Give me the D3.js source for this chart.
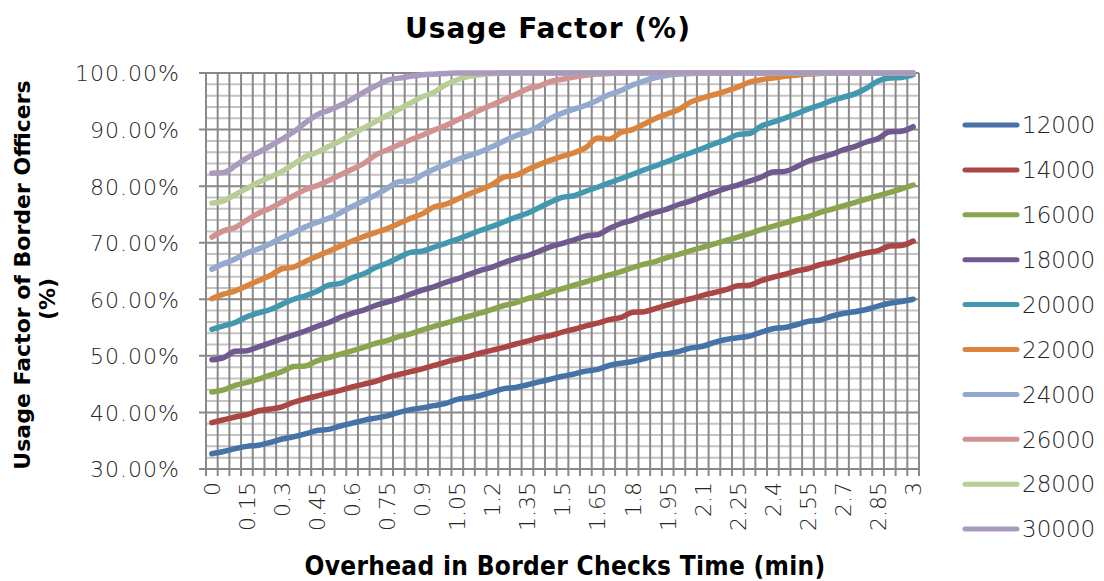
<!DOCTYPE html>
<html>
<head>
<meta charset="utf-8">
<script src="https://cdn.jsdelivr.net/npm/d3@7"></script>
<style>
  html, body { margin: 0; padding: 0; background: #fff; }
  svg { display: block; }
  .tick text { font-family: "DejaVu Sans", sans-serif; font-weight: 200; fill: #262626; }
</style>
</head>
<body>
<svg id="chart" width="1104" height="581"></svg>
<script>
// ---------------- DATA ----------------
const categories = ["0","0.05","0.1","0.15","0.2","0.25","0.3","0.35","0.4","0.45","0.5","0.55","0.6","0.65","0.7","0.75","0.8","0.85","0.9","0.95","1","1.05","1.1","1.15","1.2","1.25","1.3","1.35","1.4","1.45","1.5","1.55","1.6","1.65","1.7","1.75","1.8","1.85","1.9","1.95","2","2.05","2.1","2.15","2.2","2.25","2.3","2.35","2.4","2.45","2.5","2.55","2.6","2.65","2.7","2.75","2.8","2.85","2.9","2.95","3"];
const seriesNames = ["12000","14000","16000","18000","20000","22000","24000","26000","28000","30000"];
const yTickValues = [30,40,50,60,70,80,90,100];

const s12000 = [32.7,33.1,33.6,34.0,34.2,34.7,35.3,35.7,36.2,36.8, 37.0,37.6,38.1,38.6,39.0,39.4,40.0,40.5,40.8,41.2, 41.6,42.3,42.6,43.0,43.6,44.2,44.4,44.9,45.4,45.9, 46.4,46.8,47.3,47.6,48.3,48.7,49.0,49.5,50.1,50.4, 50.8,51.4,51.7,52.4,52.9,53.2,53.5,54.2,54.8,55.0, 55.5,56.1,56.3,57.0,57.5,57.8,58.2,58.8,59.3,59.6, 60.0];
const s14000 = [38.2,38.7,39.2,39.6,40.3,40.6,41.0,41.8,42.4,42.9, 43.4,43.9,44.5,45.0,45.5,46.2,46.7,47.2,47.7,48.3, 48.9,49.4,49.9,50.5,51.0,51.5,52.1,52.6,53.2,53.6, 54.2,54.7,55.3,55.8,56.4,56.8,57.7,57.8,58.4,59.0, 59.6,60.1,60.7,61.2,61.7,62.4,62.5,63.3,63.9,64.4, 65.0,65.4,66.1,66.5,67.1,67.7,68.2,68.6,69.4,69.5, 70.3];
const s16000 = [43.6,44.0,44.8,45.3,45.9,46.6,47.2,48.1,48.2,49.1, 49.7,50.3,50.9,51.5,52.2,52.7,53.4,53.9,54.6,55.2, 55.8,56.4,57.0,57.6,58.2,58.9,59.4,60.1,60.6,61.3, 61.9,62.5,63.1,63.7,64.3,64.9,65.6,66.2,66.7,67.4, 68.0,68.6,69.2,69.8,70.4,71.0,71.6,72.3,72.9,73.5, 74.1,74.6,75.3,75.9,76.5,77.1,77.7,78.3,78.9,79.5, 80.2];
const s18000 = [49.3,49.7,50.8,50.9,51.6,52.3,53.0,53.7,54.4,55.2, 55.9,56.8,57.5,58.1,58.9,59.5,60.1,60.9,61.6,62.2, 63.0,63.6,64.4,65.1,65.7,66.5,67.2,67.7,68.5,69.3, 69.9,70.5,71.2,71.4,72.5,73.4,74.0,74.8,75.4,76.0, 76.8,77.4,78.2,78.9,79.6,80.2,80.9,81.6,82.5,82.6, 83.4,84.4,85.0,85.6,86.4,87.0,87.8,88.4,89.6,89.7, 90.5];
const s20000 = [54.7,55.3,55.9,56.9,57.6,58.2,59.1,60.0,60.6,61.4, 62.5,62.8,63.8,64.5,65.6,66.4,67.4,68.3,68.5,69.2, 69.9,70.6,71.4,72.2,72.9,73.7,74.5,75.2,76.2,77.2, 78.0,78.3,79.1,79.8,80.6,81.3,82.1,82.9,83.6,84.4, 85.2,85.9,86.7,87.5,88.2,89.1,89.3,90.6,91.3,92.0, 92.8,93.6,94.3,95.1,95.7,96.3,97.3,98.6,99.1,99.2, 99.7];
const s22000 = [60.1,60.9,61.5,62.4,63.3,64.2,65.4,65.7,66.7,67.6, 68.5,69.4,70.3,71.1,71.8,72.5,73.4,74.3,75.1,76.3, 76.8,77.7,78.6,79.4,80.3,81.6,81.9,82.9,83.8,84.6, 85.3,85.9,86.8,88.5,88.3,89.5,90.0,91.0,92.0,92.8, 93.6,94.9,95.6,96.2,96.8,97.5,98.4,98.8,99.1,99.4, 99.6,99.8,99.9,100,100,100,100,100,100,100, 100];
const s24000 = [65.3,66.3,67.1,68.2,68.9,69.8,70.9,71.8,72.8,73.6, 74.3,75.3,76.4,77.4,78.4,79.6,80.8,80.9,82.0,83.0, 83.8,84.7,85.4,86.1,87.0,88.0,88.9,89.6,90.6,92.0, 92.9,93.6,94.3,95.2,96.2,96.9,97.9,98.6,99.2,99.6, 99.8,99.9,100,100,100,100,100,100,100,100, 100,100,100,100,100,100,100,100,100,100, 100];
const s26000 = [71.0,72.1,72.7,74.0,75.2,76.1,77.2,78.3,79.4,80.1, 81.0,82.0,83.0,84.0,85.5,86.4,87.3,88.2,89.0,89.9, 90.7,91.7,92.6,93.5,94.4,95.3,96.2,97.2,97.7,98.5, 98.9,99.3,99.6,99.8,99.9,100,100,100,100,100, 100,100,100,100,100,100,100,100,100,100, 100,100,100,100,100,100,100,100,100,100, 100];
const s28000 = [77.0,77.4,78.5,79.6,80.7,81.6,82.6,83.9,85.2,86.0, 87.0,88.0,89.2,90.3,91.4,92.5,93.6,94.7,95.8,96.6, 97.9,98.8,99.4,99.7,99.9,100,100,100,100,100, 100,100,100,100,100,100,100,100,100,100, 100,100,100,100,100,100,100,100,100,100, 100,100,100,100,100,100,100,100,100,100, 100];
const s30000 = [82.3,82.4,83.6,85.0,86.0,87.1,88.3,89.6,91.2,92.6, 93.4,94.3,95.4,96.6,97.7,98.7,99.1,99.4,99.7,99.8, 99.9,100,100,100,100,100,100,100,100,100, 100,100,100,100,100,100,100,100,100,100, 100,100,100,100,100,100,100,100,100,100, 100,100,100,100,100,100,100,100,100,100, 100];

const seriesValues = [s12000,s14000,s16000,s18000,s20000,s22000,s24000,s26000,s28000,s30000];
const colors = ["#4572A7","#AA4643","#89A54E","#71588F","#4198AF","#DB843D","#93A9CF","#D19392","#B9CD96","#A99BBD"];

// ---------------- LAYOUT ----------------
const svg = d3.select("#chart");
const L = 206, R = 919, T = 73, B = 469;

const x = d3.scaleBand().domain(categories).range([L, R]).paddingInner(0).paddingOuter(0);
const bw = x.bandwidth();
const xc = c => x(c) + bw / 2;
const y = d3.scaleLinear().domain([30, 100]).range([B, T]);

// minor horizontal gridlines (every 2%)
const minorVals = d3.range(32, 100, 2).filter(v => v % 10 !== 0);
svg.append("g").selectAll("line").data(minorVals).join("line")
  .attr("x1", L).attr("x2", R)
  .attr("y1", d => y(d)).attr("y2", d => y(d))
  .attr("stroke", "#c3c3c3").attr("stroke-width", 2);

// vertical gridlines at category boundaries, with tick marks below the axis
const bounds = categories.map(c => x(c)).concat([R]);
svg.append("g").selectAll("line").data(bounds).join("line")
  .attr("x1", d => d).attr("x2", d => d)
  .attr("y1", T).attr("y2", B + 7)
  .attr("stroke", "#898989").attr("stroke-width", 2);

// major horizontal gridlines
svg.append("g").selectAll("line").data(yTickValues).join("line")
  .attr("x1", L - 7).attr("x2", R)
  .attr("y1", d => y(d)).attr("y2", d => y(d))
  .attr("stroke", "#898989").attr("stroke-width", 2);

// Y axis labels
const yAxis = d3.axisLeft(y).tickValues(yTickValues).tickSize(0).tickPadding(26)
  .tickFormat(d => d.toFixed(2) + "%");
const gy = svg.append("g").attr("transform", `translate(${L},0)`).call(yAxis);
gy.select(".domain").remove();
gy.selectAll(".tick text").attr("font-size", 22).attr("letter-spacing", 1).attr("dy", "0.36em");

// X axis labels (every 3rd category)
const xLabelCats = categories.filter((c, i) => i % 3 === 0);
const xAxis = d3.axisBottom(x).tickValues(xLabelCats).tickSize(0).tickPadding(0);
const gx = svg.append("g").attr("transform", `translate(0,${B})`).call(xAxis);
gx.select(".domain").remove();
gx.selectAll(".tick text")
  .attr("font-size", 22)
  .attr("transform", "rotate(-90)")
  .attr("text-anchor", "end")
  .attr("x", -13).attr("y", 0).attr("dy", "0.36em");

// Lines
const line = d3.line()
  .x((d, i) => xc(categories[i]))
  .y(d => y(d))
  .curve(d3.curveMonotoneX);

svg.append("g").selectAll("path").data(seriesValues).join("path")
  .attr("d", d => line(d))
  .attr("fill", "none")
  .attr("stroke", (d, i) => colors[i])
  .attr("stroke-width", 5.5)
  .attr("stroke-linejoin", "round")
  .attr("stroke-linecap", "round");

// Title
svg.append("text").attr("x", 548).attr("y", 38)
  .attr("text-anchor", "middle")
  .attr("font-family", "DejaVu Sans, sans-serif").attr("font-weight", "bold")
  .attr("font-size", 28).attr("letter-spacing", 1).attr("fill", "#000")
  .text("Usage Factor (%)");

// X axis title
svg.append("text").attr("x", 565).attr("y", 575)
  .attr("text-anchor", "middle")
  .attr("font-family", "DejaVu Sans Condensed, DejaVu Sans, sans-serif").attr("font-weight", "bold")
  .attr("font-size", 26).attr("letter-spacing", 0.3).attr("fill", "#000")
  .text("Overhead in Border Checks Time (min)");

// Y axis title (two lines)
const yt = svg.append("text")
  .attr("transform", "translate(30,275) rotate(-90)")
  .attr("text-anchor", "middle")
  .attr("font-family", "DejaVu Sans, sans-serif").attr("font-weight", "bold")
  .attr("font-size", 22).attr("fill", "#000");
yt.append("tspan").attr("x", 0).attr("y", 0).text("Usage Factor of Border Officers");
yt.append("tspan").attr("x", -24).attr("y", 25).text("(%)");

// Legend
const lg = svg.append("g");
seriesNames.forEach((name, i) => {
  const ly = 125 + i * 44.9;
  lg.append("line").attr("x1", 965).attr("x2", 1017).attr("y1", ly).attr("y2", ly)
    .attr("stroke", colors[i]).attr("stroke-width", 5).attr("stroke-linecap", "round");
  lg.append("text").attr("x", 1022).attr("y", ly).attr("dy", "0.36em")
    .attr("font-family", "DejaVu Sans, sans-serif").attr("font-weight", 200)
    .attr("font-size", 23).attr("fill", "#262626")
    .text(name);
});
</script>
</body>
</html>
